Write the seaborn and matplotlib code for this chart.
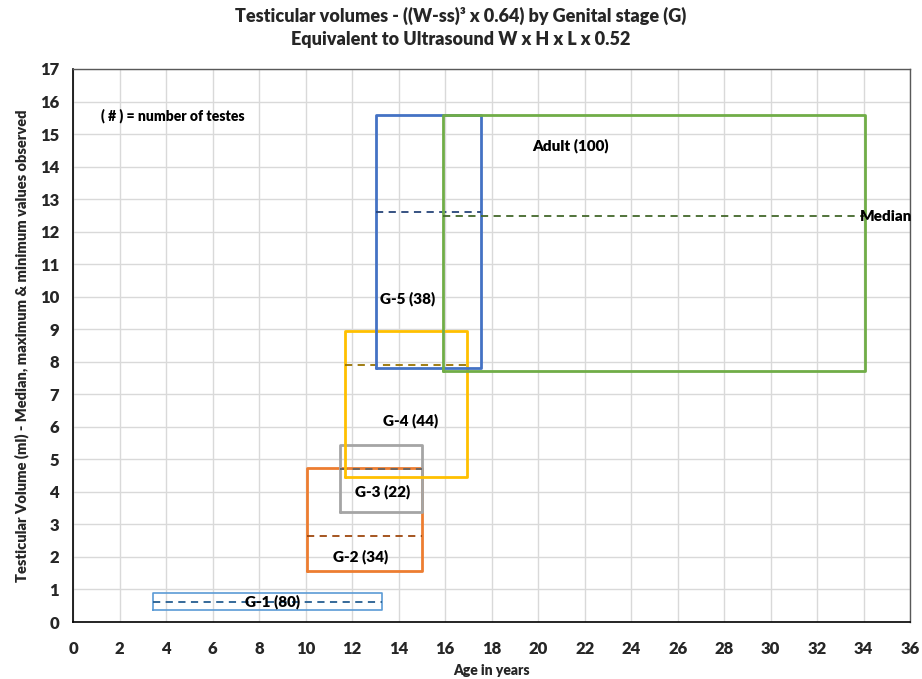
import matplotlib
matplotlib.use("Agg")
import matplotlib.pyplot as plt
import seaborn as sns
import pandas as pd
import numpy as np

stages = ["G-1", "G-2", "G-3", "G-4", "G-5", "Adult"]
counts = [80, 34, 22, 44, 38, 100]
age_min = [3.45, 10.05, 11.5, 11.7, 13.05, 15.9]
age_max = [13.3, 15.0, 15.0, 16.95, 17.55, 34.05]
vol_min = [0.38, 1.58, 3.38, 4.47, 7.8, 7.72]
vol_max = [0.9, 4.74, 5.45, 8.95, 15.6, 15.6]
vol_median = [0.62, 2.65, 4.7, 7.9, 12.6, 12.47]

box_colors = ["#5B9BD5", "#ED7D31", "#A5A5A5", "#FFC000", "#4472C4", "#70AD47"]
median_colors = ["#255E91", "#9E480E", "#636363", "#997300", "#264478", "#43682B"]
box_widths = [1.2, 2.0, 2.0, 2.0, 2.0, 2.0]
label_pos = [(8.6, 0.62), (12.35, 2.0), (13.3, 4.0), (14.5, 6.2), (14.4, 9.95), (21.4, 14.65)]

sns.set_theme(style="whitegrid")
plt.rcParams["font.family"] = ["Lato", "DejaVu Sans"]
W = "heavy"

fig = plt.figure(figsize=(9.22, 6.79), dpi=100)
ax = fig.add_axes([0.0792, 0.0839, 0.908, 0.8145])

rows = []
for i, s in enumerate(stages):
    xs = [age_min[i], age_max[i], age_max[i], age_min[i], age_min[i]]
    ys = [vol_min[i], vol_min[i], vol_max[i], vol_max[i], vol_min[i]]
    for k, (x, y) in enumerate(zip(xs, ys)):
        rows.append({"stage": s, "x": x, "y": y, "order": k})
df = pd.DataFrame(rows)

for i, s in enumerate(stages):
    sub = df[df["stage"] == s]
    sns.lineplot(data=sub, x="x", y="y", sort=False, estimator=None,
                 color=box_colors[i], linewidth=box_widths[i], ax=ax, zorder=3)
    med = pd.DataFrame({"x": [age_min[i], age_max[i]], "y": [vol_median[i]] * 2})
    sns.lineplot(data=med, x="x", y="y", sort=False, estimator=None,
                 color=median_colors[i], linewidth=1.3, linestyle=(0, (4, 3)), ax=ax, zorder=3)
    lx, ly = label_pos[i]
    ax.text(lx, ly, f"{s} ({counts[i]})", ha="center", va="center",
            fontsize=11, fontweight=W, color="black", zorder=4)

ax.text(33.85, vol_median[5], "Median", ha="left", va="center",
        fontsize=11, fontweight=W, color="black", zorder=4)
ax.text(4.3, 15.55, "( # ) = number of testes", ha="center", va="center",
        fontsize=10, fontweight=W, color="black")

ax.set_xlim(0, 36)
ax.set_ylim(0, 17)
ax.set_xticks(np.arange(0, 37, 2))
ax.set_yticks(np.arange(0, 18, 1))
ax.grid(True, color="#D9D9D9", linewidth=1.0)
ax.set_axisbelow(True)
ax.tick_params(axis="x", length=0, labelsize=12, pad=14)
ax.tick_params(axis="y", length=0, labelsize=12, pad=10)
for lab in ax.get_xticklabels() + ax.get_yticklabels():
    lab.set_fontweight(W)
for side in ["left", "bottom"]:
    ax.spines[side].set_color("black")
    ax.spines[side].set_linewidth(1.2)
for side in ["top", "right"]:
    ax.spines[side].set_color("#595959")
    ax.spines[side].set_linewidth(1.0)
    ax.spines[side].set_visible(True)

ax.set_xlabel("Age in years", fontsize=10, fontweight=W, va="center")
ax.xaxis.set_label_coords(0.5, -0.087)
ax.set_ylabel("Testicular Volume (ml) - Median, maximum & minimum values observed",
              fontsize=10.5, fontweight=W, labelpad=8)
fig.suptitle("Testicular volumes - ((W-ss)\u00b3 x 0.64) by Genital stage (G)\nEquivalent to Ultrasound W x H x L x 0.52",
             fontsize=13, fontweight=W, y=0.99, linespacing=1.45)

fig.savefig("out.png", dpi=100)
